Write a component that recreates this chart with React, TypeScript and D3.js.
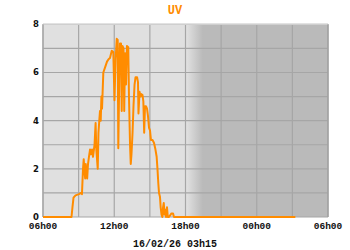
import React from "react";
import * as d3 from "d3";

// hours elapsed since 06h00 on the previous day
const hours: number[] = [
  0, 2.4, 2.48, 2.57, 2.74, 3.03, 3.2, 3.28, 3.37, 3.43, 3.49, 3.55, 3.6, 3.66, 3.72, 3.79,
  3.87, 3.96, 4.04, 4.13, 4.21, 4.34, 4.43, 4.49, 4.61, 4.67, 4.74, 4.8, 4.86, 4.92, 4.97,
  5.08, 5.22, 5.39, 5.52, 5.64, 5.79, 5.92, 6.02, 6.11, 6.21, 6.29, 6.34, 6.43, 6.48, 6.57,
  6.63, 6.69, 6.78, 6.84, 6.91, 6.99, 7.07, 7.18, 7.24, 7.33, 7.39, 7.45, 7.54, 7.62, 7.71,
  7.79, 7.92, 8.0, 8.04, 8.13, 8.21, 8.29, 8.38, 8.45, 8.52, 8.59, 8.67, 8.76, 8.84, 8.93,
  9.01, 9.09, 9.22, 9.35, 9.47, 9.57, 9.64, 9.71, 9.77, 9.85, 9.91, 9.98, 10.05, 10.11,
  10.17, 10.23, 10.3, 10.36, 10.44, 10.51, 10.61, 10.82, 10.95, 11.03, 21.25,
];
const uv: number[] = [
  0, 0, 0.4, 0.8, 0.9, 0.95, 1.0, 0.95, 2.0, 2.4, 1.9, 1.6, 2.2, 1.8, 1.6, 2.2,
  2.5, 2.8, 2.6, 2.8, 2.5, 3.0, 3.9, 2.8, 2.0, 3.5, 4.0, 4.4, 4.0, 5.0, 4.5,
  6.0, 6.2, 6.45, 6.55, 6.6, 6.9, 6.85, 4.85, 6.5, 7.4, 7.35, 2.85, 6.0, 7.2, 7.2,
  4.4, 7.1, 7.0, 4.4, 6.8, 5.5, 7.1, 7.05, 5.0, 3.0, 2.2, 2.6, 3.5, 4.6, 5.5,
  5.8, 5.8, 5.6, 4.3, 5.2, 5.0, 5.1, 5.06, 4.8, 3.5, 4.6, 4.6, 4.5, 4.2, 3.7,
  3.6, 3.2, 3.2, 3.07, 2.8, 2.5, 2.0, 1.4, 1.0, 0.84, 0.4, 0.1, 0, 0.4,
  0.58, 0.1, 0.3, 0, 0.4, 0, 0, 0.15, 0.15, 0, 0,
];

const xTickHours = [0, 6, 12, 18, 24];
const xTickLabels = ["06h00", "12h00", "18h00", "00h00", "06h00"];
const xGridHours = [0, 3, 6, 9, 12, 15, 18, 21, 24];
const yTicks = [0, 2, 4, 6, 8];
const yGrid = [0, 1, 2, 3, 4, 5, 6, 7, 8];
const nightStart = 12.1;
const nightFull = 13.45;
const title = "UV";
const stamp = "16/02/26 03h15";

export default function App() {
  const W = 350, H = 250;
  const x = d3.scaleLinear().domain([0, 24]).range([43, 328]);
  const y = d3.scaleLinear().domain([0, 8]).range([217, 24.3]);
  const pts: [number, number][] = hours.map((h, i) => [h, uv[i]]);
  const line = d3
    .line<[number, number]>()
    .x((d) => x(d[0]))
    .y((d) => y(d[1]));

  const x0 = x(0), x1 = x(24), yTop = y(8), yBot = y(0);
  const mono = "'Liberation Mono', 'DejaVu Sans Mono', monospace";
  return (
    <svg width={W} height={H} style={{ position: "absolute", left: 0, top: 0 }}>
      <defs>
        <linearGradient id="night" x1={x(nightStart)} x2={x(nightFull)} y1="0" y2="0" gradientUnits="userSpaceOnUse">
          <stop offset="0" stopColor="#e0e0e0" />
          <stop offset="1" stopColor="#bababa" />
        </linearGradient>
      </defs>
      <rect x={0} y={0} width={W} height={H} fill="#ffffff" />
      <rect x={x0} y={yTop} width={x1 - x0} height={yBot - yTop} fill="#e0e0e0" />
      <rect x={x(nightStart)} y={yTop} width={x1 - x(nightStart)} height={yBot - yTop} fill="url(#night)" />
      <rect x={x(nightFull)} y={yTop} width={x1 - x(nightFull)} height={yBot - yTop} fill="#bababa" />
      {yGrid.map((v) => (
        <line key={"hy" + v} x1={x0} x2={x1} y1={y(v)} y2={y(v)} stroke="#a6a6a6" strokeWidth={1.2} />
      ))}
      {xGridHours.map((h) => (
        <line key={"vx" + h} x1={x(h)} x2={x(h)} y1={yTop} y2={yBot} stroke="#a6a6a6" strokeWidth={1.2} />
      ))}
      <line x1={x0} x2={x1} y1={yTop} y2={yTop} stroke="#cfcfcf" strokeWidth={1.2} />
      <line x1={x1} x2={x1} y1={yTop} y2={yBot} stroke="#a0a0a0" strokeWidth={1.2} />
      <line x1={x0} x2={x0} y1={yTop} y2={yBot} stroke="#a6a6a6" strokeWidth={1.2} />
      <path d={line(pts) || ""} fill="none" stroke="#ff8c00" strokeWidth={2} strokeLinejoin="round" />
      {yTicks.map((v) => (
        <text key={"yt" + v} x={39} y={y(v)} dy="0.35em" textAnchor="end" fontFamily="'DejaVu Sans', Verdana, sans-serif" fontWeight="bold" fontSize={8.5} fill="#111">
          {v}
        </text>
      ))}
      {xTickHours.map((h, i) => (
        <text key={"xt" + i} x={x(h)} y={228.5} textAnchor="middle" fontFamily={mono} fontWeight="bold" fontSize={9.5} fill="#111">
          {xTickLabels[i]}
        </text>
      ))}
      <text x={175} y={14} textAnchor="middle" fontFamily={mono} fontWeight="bold" fontSize={12} fill="#ff8c00">
        {title}
      </text>
      <text x={175} y={247} textAnchor="middle" fontFamily={mono} fontWeight="bold" fontSize={10} fill="#111">
        {stamp}
      </text>
    </svg>
  );
}
